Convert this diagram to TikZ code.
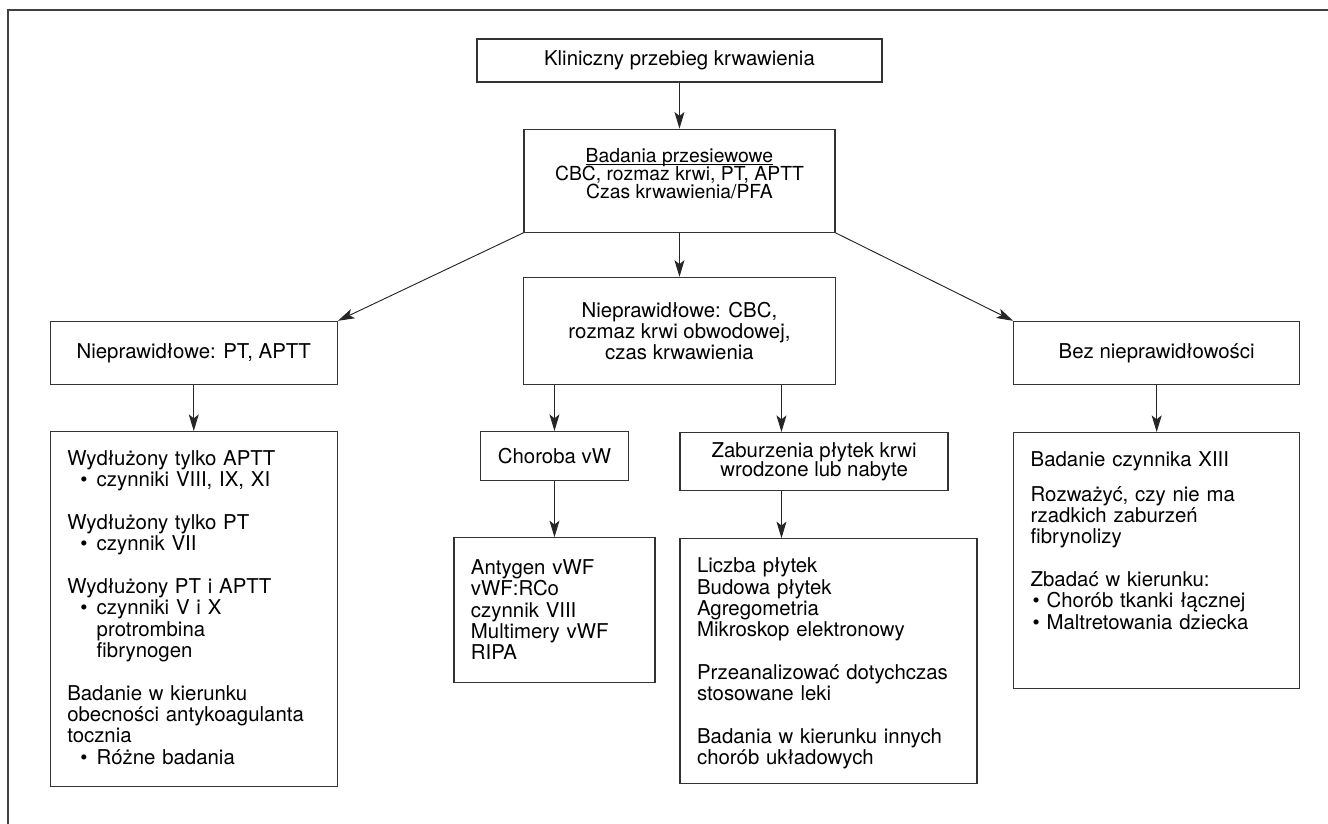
\documentclass[tikz,border=0pt]{standalone}
\usepackage{fontspec}
\setmainfont{TeX Gyre Heros}
\usetikzlibrary{arrows.meta, positioning}

\newcommand{\pkt}{\hspace*{9.75pt}\textbullet\hspace{7pt}}
\newcommand{\pktx}{\hspace*{9.75pt}\phantom{\textbullet}\hspace{7pt}}

\begin{document}
\begin{tikzpicture}[
    font=\fontsize{15.3}{16}\selectfont,
    box/.style={rectangle, draw=black!80, line width=0.9pt, align=center, inner sep=0pt},
    detail/.style={rectangle, draw=black!80, line width=0.9pt, align=left, inner xsep=12.75pt, inner ysep=0pt, text height=25.5pt},
    arrow/.style={-{Stealth[length=12.5pt, width=7.5pt, inset=3pt]}, line width=0.7pt, black!85}
]
\useasboundingbox (0,0) rectangle (996pt,-618pt);
\draw[black!75, line width=1pt] (996pt,-7.5pt) -- (6pt,-7.5pt) -- (6pt,-618pt);

\node[box, minimum width=303.75pt, minimum height=32.25pt] (course) at (509.6pt,-45.4pt) {Kliniczny przebieg krwawienia};
\node[box, minimum width=233.25pt, minimum height=77.25pt, below=34.5pt of course,
      font={\fontsize{14.5}{13.8}\selectfont\lineskiplimit=-20pt}] (screen)
      {\underline{\smash{Badania przesiewowe}}\\ CBC, rozmaz krwi, PT, APTT\\ Czas krwawienia/PFA};
\node[box, minimum width=234pt, minimum height=80.25pt, below=33pt of screen] (abncbc)
      {Nieprawidłowe: CBC,\\ rozmaz krwi obwodowej,\\ czas krwawienia};
\node[box, minimum width=215.25pt, minimum height=47.25pt, below left=33pt and 138.75pt of abncbc.north west] (abncoag)
      {Nieprawidłowe: PT, APTT};
\node[box, minimum width=214.5pt, minimum height=47.25pt, below right=33pt and 132.75pt of abncbc.north east] (normal)
      {Bez nieprawidłowości};
\node[box, minimum width=111pt, minimum height=36.75pt, below=34.5pt of abncbc.south, xshift=-93.75pt] (vwd)
      {Choroba vW};
\node[box, minimum width=201pt, minimum height=43.5pt, below right=35.25pt and 0pt of abncbc.south,
      font=\fontsize{15.3}{14.5}\selectfont] (platelet)
      {Zaburzenia płytek krwi\\ wrodzone lub nabyte};
\coordinate (pltin) at ([xshift=76.5pt]abncbc.south);

\node[detail, text width=189.75pt, text depth=240.75pt, below=34.5pt of abncoag] (factors)
      {Wydłużony tylko APTT\\
       \pkt czynniki VIII, IX, XI\\[16pt]
       Wydłużony tylko PT\\
       \pkt czynnik VII\\[16pt]
       Wydłużony PT i APTT\\
       \pkt czynniki V i X\\
       \pktx protrombina\\
       \pktx fibrynogen\\[16pt]
       Badanie w kierunku\\
       obecności antykoagulanta\\
       tocznia\\
       \pkt Różne badania};
\node[detail, text width=125.25pt, text height=27.5pt, text depth=81.25pt, below=42pt of vwd] (vwdtests)
      {Antygen vWF\\ vWF:RCo\\ czynnik VIII\\ Multimery vWF\\ RIPA};
\node[detail, text width=197.25pt, text depth=158.25pt, below right=35.25pt and 0pt of platelet.south west] (plttests)
      {Liczba płytek\\
       Budowa płytek\\
       Agregometria\\
       Mikroskop elektronowy\\[16pt]
       Przeanalizować dotychczas\\
       stosowane leki\\[16pt]
       Badania w kierunku innych\\
       chorób układowych};
\node[detail, text width=189pt, text depth=166.5pt, below=35.25pt of normal] (xiii)
      {Badanie czynnika XIII\\[10pt]
       Rozważyć, czy nie ma\\
       rzadkich zaburzeń\\
       fibrynolizy\\[16pt]
       Zbadać w kierunku:\\
       \hspace*{1.5pt}\textbullet{} Chorób tkanki łącznej\\
       \hspace*{1.5pt}\textbullet{} Maltretowania dziecka};

\draw[arrow] (course.south) -- (course.south |- screen.north);
\draw[arrow] (screen.south) -- (screen.south |- abncbc.north);
\draw[arrow] (screen.south west) -- (abncoag.north east);
\draw[arrow] (screen.south east) -- (normal.north west);
\draw[arrow] (abncbc.south -| vwd) -- (vwd);
\draw[arrow] (pltin) -- (pltin |- platelet.north);
\draw[arrow] (abncoag) -- (factors);
\draw[arrow] (vwd) -- (vwdtests);
\draw[arrow] (pltin |- platelet.south) -- (pltin |- plttests.north);
\draw[arrow] (normal) -- (xiii);

\end{tikzpicture}
\end{document}
